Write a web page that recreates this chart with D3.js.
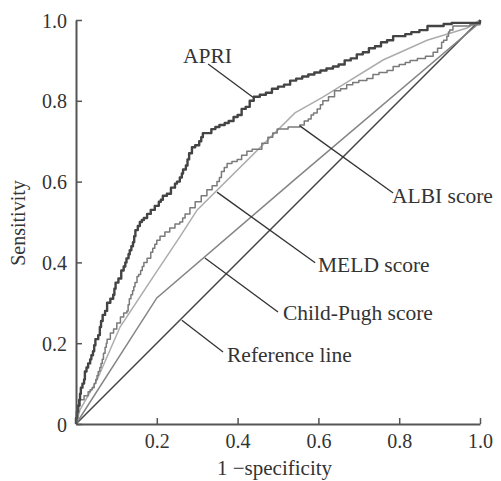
<!DOCTYPE html>
<html>
<head>
<meta charset="utf-8">
<script src="https://cdn.jsdelivr.net/npm/d3@7"></script>
<style>
body { margin: 0; background: #fff; }
text { font-family: "Liberation Serif", "Times New Roman", serif; fill: #333; }
</style>
</head>
<body>
<div id="chart"></div>
<script>
// ROC curves, [1-specificity, sensitivity]
var apri = [[0,0],[0,0.015],[0.002,0.03],[0.004,0.045],[0.008,0.06],[0.01,0.075],[0.012,0.09],[0.016,0.10],
	[0.02,0.11],[0.022,0.13],[0.026,0.14],[0.03,0.15],[0.035,0.16],[0.038,0.17],[0.042,0.18],[0.045,0.195],
	[0.048,0.21],[0.055,0.22],[0.059,0.24],[0.062,0.255],[0.066,0.27],[0.072,0.28],[0.077,0.30],[0.085,0.31],
	[0.092,0.32],[0.095,0.335],[0.098,0.35],[0.105,0.36],[0.112,0.38],[0.118,0.39],[0.122,0.40],[0.125,0.41],
	[0.13,0.42],[0.133,0.43],[0.137,0.44],[0.141,0.45],[0.144,0.465],[0.147,0.48],[0.153,0.49],[0.158,0.50],
	[0.163,0.505],[0.168,0.51],[0.176,0.52],[0.185,0.53],[0.195,0.54],[0.205,0.55],[0.21,0.555],[0.215,0.565],
	[0.225,0.57],[0.235,0.585],[0.245,0.595],[0.25,0.60],[0.257,0.61],[0.262,0.62],[0.265,0.63],[0.272,0.64],
	[0.276,0.655],[0.28,0.67],[0.287,0.685],[0.295,0.69],[0.305,0.70],[0.31,0.71],[0.314,0.72],[0.325,0.72],
	[0.335,0.73],[0.345,0.735],[0.355,0.74],[0.368,0.745],[0.378,0.75],[0.39,0.76],[0.40,0.765],[0.41,0.78],
	[0.42,0.785],[0.43,0.80],[0.44,0.81],[0.455,0.815],[0.47,0.82],[0.485,0.83],[0.50,0.835],[0.515,0.84],
	[0.53,0.85],[0.545,0.855],[0.56,0.86],[0.575,0.865],[0.59,0.87],[0.605,0.875],[0.62,0.88],[0.636,0.885],
	[0.65,0.89],[0.665,0.90],[0.68,0.905],[0.695,0.915],[0.71,0.92],[0.725,0.93],[0.74,0.935],[0.755,0.945],
	[0.77,0.95],[0.785,0.96],[0.80,0.96],[0.815,0.965],[0.83,0.97],[0.85,0.975],[0.87,0.985],[0.89,0.985],
	[0.91,0.99],[0.93,0.993],[0.96,0.993],[0.99,0.993],[1,1]];

var albi = [[0,0],[0.002,0.015],[0.005,0.03],[0.007,0.045],[0.01,0.06],[0.02,0.07],[0.03,0.08],[0.035,0.085],
	[0.04,0.09],[0.045,0.10],[0.049,0.11],[0.052,0.12],[0.055,0.13],[0.059,0.14],[0.062,0.15],[0.065,0.16],
	[0.068,0.175],[0.072,0.19],[0.075,0.20],[0.077,0.21],[0.085,0.225],[0.093,0.235],[0.101,0.25],[0.11,0.265],
	[0.118,0.275],[0.126,0.28],[0.129,0.295],[0.132,0.31],[0.136,0.32],[0.14,0.33],[0.143,0.34],[0.146,0.35],
	[0.151,0.365],[0.155,0.37],[0.16,0.38],[0.164,0.39],[0.168,0.40],[0.176,0.41],[0.185,0.425],[0.19,0.435],
	[0.195,0.445],[0.2,0.455],[0.208,0.465],[0.22,0.475],[0.232,0.485],[0.245,0.495],[0.257,0.50],[0.264,0.51],
	[0.27,0.52],[0.282,0.535],[0.295,0.55],[0.31,0.565],[0.324,0.58],[0.337,0.59],[0.349,0.60],[0.355,0.61],
	[0.36,0.625],[0.367,0.635],[0.374,0.645],[0.386,0.65],[0.399,0.655],[0.41,0.665],[0.423,0.675],[0.436,0.68],
	[0.448,0.68],[0.46,0.695],[0.475,0.71],[0.487,0.72],[0.498,0.73],[0.51,0.73],[0.525,0.735],[0.537,0.735],
	[0.554,0.74],[0.565,0.75],[0.575,0.755],[0.582,0.765],[0.588,0.77],[0.597,0.78],[0.605,0.79],[0.611,0.80],
	[0.625,0.81],[0.64,0.825],[0.655,0.83],[0.67,0.84],[0.685,0.845],[0.70,0.85],[0.72,0.855],[0.735,0.865],
	[0.75,0.87],[0.77,0.875],[0.785,0.885],[0.80,0.89],[0.815,0.895],[0.827,0.90],[0.845,0.905],[0.865,0.91],
	[0.884,0.92],[0.895,0.93],[0.905,0.945],[0.91,0.95],[0.918,0.96],[0.922,0.97],[0.925,0.975],[0.933,0.985],
	[0.95,0.985],[0.975,0.988],[1,1]];

var meld = [[0,0],[0.010,0.035],[0.052,0.109],[0.109,0.240],[0.191,0.364],[0.257,0.463],[0.300,0.530],
	[0.542,0.770],[0.611,0.809],[0.760,0.901],[0.869,0.950],[0.968,0.980],[1,1]];

var childPugh = [[0,0],[0.2,0.312],[0.547,0.61],[0.993,0.988],[1,1]];

var refLine = [[0,0],[1,1]];

var tickVals = [0, 0.2, 0.4, 0.6, 0.8, 1.0];
var tickLabels = ["0", "0.2", "0.4", "0.6", "0.8", "1.0"];

var labelNames = ["APRI", "ALBI score", "MELD score", "Child-Pugh score", "Reference line"];

var width = 501, height = 481;
var x0 = 76, x1 = 480, y0 = 424, y1 = 20;

var xScale = d3.scaleLinear().domain([0, 1]).range([x0, x1]);
var yScale = d3.scaleLinear().domain([0, 1]).range([y0, y1]);

var svg = d3.select("#chart").append("svg")
	.attr("width", width)
	.attr("height", height);

var line = d3.line()
	.x(function (d) { return xScale(d[0]); })
	.y(function (d) { return yScale(d[1]); });

var stepLine = d3.line()
	.curve(d3.curveStepAfter)
	.x(function (d) { return xScale(d[0]); })
	.y(function (d) { return yScale(d[1]); });

// curves
svg.append("path").attr("d", line(refLine))
	.attr("fill", "none").attr("stroke", "#4a4a4a").attr("stroke-width", 1.6);
svg.append("path").attr("d", line(childPugh))
	.attr("fill", "none").attr("stroke", "#858585").attr("stroke-width", 1.5);
svg.append("path").attr("d", line(meld))
	.attr("fill", "none").attr("stroke", "#acacac").attr("stroke-width", 1.5);
svg.append("path").attr("d", stepLine(albi))
	.attr("fill", "none").attr("stroke", "#7a7a7a").attr("stroke-width", 1.5)
	.attr("stroke-linejoin", "round");
svg.append("path").attr("d", stepLine(apri))
	.attr("fill", "none").attr("stroke", "#444").attr("stroke-width", 2.4)
	.attr("stroke-linejoin", "round");

// axes
var xAxis = d3.axisBottom(xScale).tickValues(tickVals.slice(1)).tickSizeInner(-6).tickSizeOuter(0)
	.tickFormat(function (d, i) { return tickLabels[i + 1]; });
var yAxis = d3.axisLeft(yScale).tickValues(tickVals).tickSizeInner(-6).tickSizeOuter(0)
	.tickFormat(function (d, i) { return tickLabels[i]; });

var gx = svg.append("g").attr("transform", "translate(0," + y0 + ")").call(xAxis);
var gy = svg.append("g").attr("transform", "translate(" + x0 + ",0)").call(yAxis);

[gx, gy].forEach(function (g) {
	g.select(".domain").attr("stroke", "#555").attr("stroke-width", 2);
	g.selectAll(".tick line").attr("stroke", "#555").attr("stroke-width", 1.5);
	g.selectAll(".tick text")
		.style("font-family", "'Liberation Serif', 'Times New Roman', serif")
		.style("font-size", "20px")
		.attr("fill", "#333");
});
gx.selectAll(".tick text").attr("dy", null).attr("y", 24);
gy.selectAll(".tick text").attr("x", -9).attr("dy", "0.35em");

// axis titles
svg.append("text")
	.attr("x", 217).attr("y", 475)
	.style("font-size", "21px")
	.text("1 \u2212specificity");
svg.append("text")
	.attr("transform", "translate(25,223) rotate(-90)")
	.attr("text-anchor", "middle")
	.style("font-size", "20px")
	.text("Sensitivity");

// leader lines and labels
var leaders = [
	{ from: [0.438, 0.809], to: [0.327, 0.891], tx: 183, ty: 63 },
	{ from: [0.554, 0.738], to: [0.785, 0.572], tx: 392, ty: 203 },
	{ from: [0.349, 0.574], to: [0.592, 0.399], tx: 318, ty: 272 },
	{ from: [0.319, 0.411], to: [0.500, 0.277], tx: 283, ty: 320 },
	{ from: [0.262, 0.257], to: [0.364, 0.178], tx: 227, ty: 362 }
];

leaders.forEach(function (d, i) {
	svg.append("line")
		.attr("x1", xScale(d.from[0])).attr("y1", yScale(d.from[1]))
		.attr("x2", xScale(d.to[0])).attr("y2", yScale(d.to[1]))
		.attr("stroke", "#333").attr("stroke-width", 1.3);
	svg.append("text")
		.attr("x", d.tx).attr("y", d.ty)
		.style("font-size", "21.5px")
		.text(labelNames[i]);
});
</script>
</body>
</html>
